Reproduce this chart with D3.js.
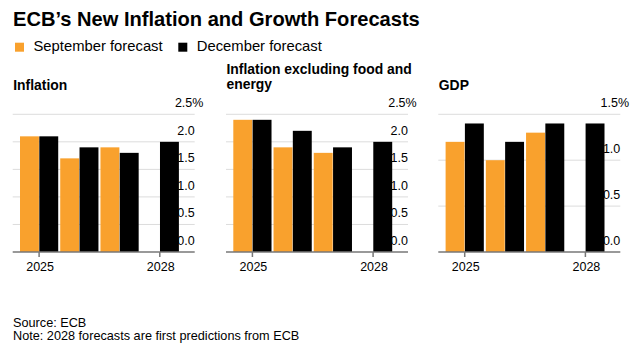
<!DOCTYPE html>
<html><head><meta charset="utf-8">
<script src="https://cdn.jsdelivr.net/npm/d3@7"></script>
<style>
body{margin:0;background:#fff}
text{font-family:"Liberation Sans",Arial,Helvetica,sans-serif;fill:#000}
</style>
</head><body>
<svg id="c" width="639" height="356"></svg>
<script>
const years = ["2025","2026","2027","2028"];
const tickYears = ["2025","2028"];
const seriesNames = ["September forecast","December forecast"];
const seriesColors = ["#f9a12d","#000000"];
const inflationSep = [2.1,1.7,1.9,null];
const inflationDec = [2.1,1.9,1.8,2.0];
const coreSep = [2.4,1.9,1.8,null];
const coreDec = [2.4,2.2,1.9,2.0];
const gdpSep = [1.2,1.0,1.3,null];
const gdpDec = [1.4,1.2,1.4,1.4];
const inflationTicks = [0,0.5,1.0,1.5,2.0,2.5];
const gdpTicks = [0,0.5,1.0,1.5];

const panels = [
  {title:["Inflation"], sep:inflationSep, dec:inflationDec, ticks:inflationTicks, left:12.7},
  {title:["Inflation excluding food and","energy"], sep:coreSep, dec:coreDec, ticks:inflationTicks, left:226},
  {title:["GDP"], sep:gdpSep, dec:gdpDec, ticks:gdpTicks, left:438.3}
];

const svg = d3.select("#c");
const W = 182, plotTop = 114.3, base = 252;

svg.append("text").attr("x",13).attr("y",26).attr("font-size","20.1px").attr("font-weight","bold")
  .text("ECB’s New Inflation and Growth Forecasts");

// legend
const lg = svg.append("g");
const legX = [15,178.3];
seriesNames.forEach((n,i)=>{
  lg.append("rect").attr("x",legX[i]).attr("y",42.7).attr("width",9).attr("height",9).attr("fill",seriesColors[i]);
  lg.append("text").attr("x",legX[i]+18.5).attr("y",50.7).attr("font-size","14.8px").text(n);
});

panels.forEach(p=>{
  const g = svg.append("g").attr("transform",`translate(${p.left},0)`);
  const hdrY = p.title.length>1 ? [74,89.3] : [90];
  p.title.forEach((t,i)=>g.append("text").attr("x",0.5).attr("y",hdrY[i]).attr("font-size","13.9px").attr("font-weight","bold").text(t));

  const y = d3.scaleLinear().domain([0,d3.max(p.ticks)]).range([base,plotTop]);
  const x0 = d3.scaleBand().domain(years).range([7.3,166.2]).paddingInner(0.05).paddingOuter(0);
  const x1 = d3.scaleBand().domain([0,1]).range([0,x0.bandwidth()]).paddingInner(0.02);

  // grid
  g.selectAll("line.grid").data(p.ticks.filter(t=>t>0)).join("line")
    .attr("x1",0).attr("x2",W).attr("y1",d=>y(d)).attr("y2",d=>y(d))
    .attr("stroke","#dcdcdc").attr("stroke-width",1);
  // tick labels (behind bars)
  const maxT = d3.max(p.ticks);
  g.selectAll("text.yl").data(p.ticks).join("text")
    .attr("x",W).attr("y",d=>y(d)-7).attr("font-size","12.5px")
    .text(d=>d3.format(".1f")(d)).each(function(d){
      if(d===maxT){ d3.select(this).append("tspan").text("%"); d3.select(this).attr("text-anchor","start").attr("x",W-19.8);} 
      else d3.select(this).attr("text-anchor","end");
    });

  const data = years.map((yr,i)=>({yr, vals:[p.sep[i],p.dec[i]]}));
  const grp = g.selectAll("g.grp").data(data).join("g").attr("transform",d=>`translate(${x0(d.yr)},0)`);
  grp.selectAll("rect").data(d=>d.vals.map((v,k)=>({v,k})).filter(e=>e.v!==null)).join("rect")
    .attr("x",e=>x1(e.k)).attr("width",x1.bandwidth())
    .attr("y",e=>y(e.v)).attr("height",e=>base-y(e.v))
    .attr("fill",e=>seriesColors[e.k]);

  // x axis
  g.append("line").attr("x1",0).attr("x2",W).attr("y1",base).attr("y2",base).attr("stroke","#777").attr("stroke-width",1.5);
  tickYears.forEach(t=>{
    const cx = x0(t)+x0.bandwidth()/2;
    g.append("line").attr("x1",cx).attr("x2",cx).attr("y1",base).attr("y2",base+5).attr("stroke","#777").attr("stroke-width",1.5);
    g.append("text").attr("x",cx+1).attr("y",271).attr("text-anchor","middle").attr("font-size","12.5px").text(t);
  });
});

svg.append("text").attr("x",13).attr("y",327).attr("font-size","12.7px").text("Source: ECB");
svg.append("text").attr("x",13).attr("y",340).attr("font-size","12.7px").text("Note: 2028 forecasts are first predictions from ECB");
</script>
</body></html>
